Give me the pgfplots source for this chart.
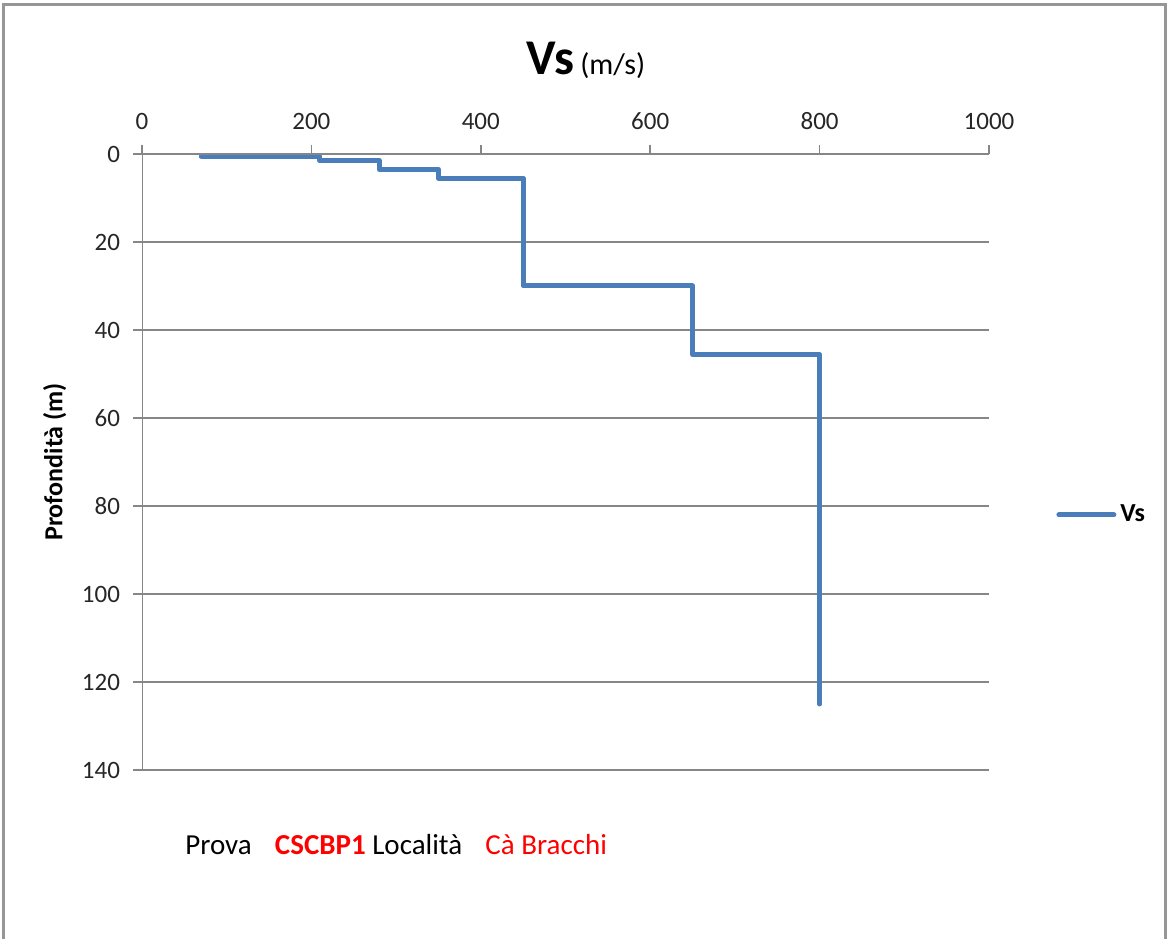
\documentclass[border=0pt]{standalone}
\usepackage{fontspec}
\setmainfont{Carlito}
\usepackage{pgfplots}
\pgfplotsset{compat=1.18}
\definecolor{vsblue}{RGB}{74,126,187}
\definecolor{gridgray}{RGB}{134,134,134}
\definecolor{framegray}{RGB}{150,150,150}
\begin{document}
\begin{tikzpicture}
% page size: 1168 x 939 px at 0.5pt per px
\path (0,0) rectangle (584pt,469.5pt);
\draw[framegray, line width=1.5pt] (1.5pt,0) -- (1.5pt,467pt) -- (582.5pt,467pt) -- (582.5pt,0);
\begin{axis}[
    at={(71pt,84.5pt)}, anchor=south west,
    scale only axis,
    width=423.5pt, height=308pt,
    xmin=0, xmax=1000, ymin=0, ymax=140,
    y dir=reverse,
    xtick={0,200,...,1000},
    ytick={0,20,...,140},
    xticklabel pos=upper,
    xtick pos=upper,
    ytick pos=left,
    tick align=outside,
    major tick length=4.5pt,
    tick style={gridgray, line width=0.75pt},
    axis line style={draw=none},
    ymajorgrids,
    grid style={gridgray, line width=0.75pt},
    ticklabel style={font=\fontsize{12.5}{15}\selectfont, text=black!85},
    xticklabel style={yshift=4pt},
    yticklabel style={xshift=-3pt},
    /pgf/number format/1000 sep={},
    /pgf/number format/assume math mode=true,
    ylabel={Profondità (m)},
    ylabel style={at={(axis description cs:-0.103,0.5)}, anchor=center,
        font=\fontsize{13}{15}\selectfont\bfseries},
    legend style={at={(axis description cs:1.072,0.414)}, anchor=west,
        draw=none, fill=none, font=\fontsize{13}{15}\selectfont\bfseries},
    legend image code/.code={\draw[#1, line cap=round] (0pt,0pt) -- (27.5pt,0pt);},
]
\addplot[vsblue, line width=2.5pt, line join=round, line cap=round] coordinates {
    (70,0.5) (210,0.5) (210,1.5) (280,1.5) (280,3.5) (350,3.5)
    (350,5.5) (450,5.5) (450,30) (650,30) (650,45.5) (800,45.5) (800,125)
};
\addlegendentry{Vs}
\draw[gridgray, line width=0.75pt] (axis description cs:0,0) -- (axis description cs:0,1) -- (axis description cs:1,1);
\end{axis}
\node[anchor=base] at (293pt,432pt) {{\fontsize{25}{30}\selectfont\bfseries Vs}\hspace{0.3em}{\fontsize{15}{18}\selectfont (m/s)}};
\node[anchor=base west, inner sep=0pt] at (92.5pt,42pt) {\fontsize{14.5}{17}\selectfont Prova\hspace{0.8em}{\bfseries\color{red}CSCBP1} Località\hspace{0.8em}{\color{red}Cà Bracchi}};
\end{tikzpicture}
\end{document}
